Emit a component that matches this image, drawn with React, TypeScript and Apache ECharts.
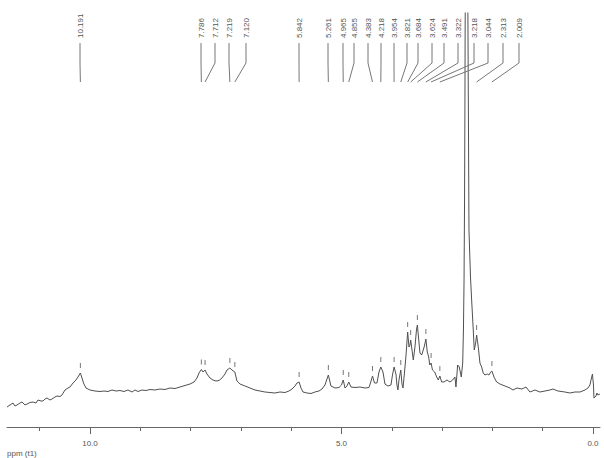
import React, { useEffect, useRef } from "react";
import * as echarts from "echarts";

// Spectrum trace: chemical shift (ppm) and intensity (arbitrary units)
const PPM = [
  11.65, 11.59, 11.531, 11.491, 11.451, 11.392, 11.352, 11.292, 11.252, 11.193, 11.133, 11.074, 11.034,
  10.974, 10.934, 10.895, 10.855, 10.795, 10.755, 10.696, 10.656, 10.596, 10.557, 10.497, 10.437, 10.398,
  10.338, 10.278, 10.239, 10.191, 10.159, 10.129, 10.08, 10.0, 9.901, 9.801, 9.722, 9.642, 9.563, 9.483,
  9.404, 9.324, 9.245, 9.165, 9.105, 9.046, 8.966, 8.887, 8.807, 8.708, 8.608, 8.509, 8.41, 8.31, 8.211,
  8.111, 8.012, 7.932, 7.873, 7.833, 7.786, 7.753, 7.712, 7.674, 7.614, 7.555, 7.495, 7.435, 7.376, 7.316,
  7.276, 7.219, 7.177, 7.12, 7.078, 7.018, 6.918, 6.819, 6.72, 6.62, 6.521, 6.421, 6.322, 6.223, 6.123,
  6.044, 5.984, 5.924, 5.885, 5.842, 5.805, 5.765, 5.686, 5.606, 5.527, 5.447, 5.388, 5.328, 5.261, 5.209,
  5.129, 5.05, 5.0, 4.965, 4.93, 4.891, 4.855, 4.811, 4.732, 4.632, 4.533, 4.453, 4.423, 4.383, 4.344,
  4.294, 4.254, 4.218, 4.175, 4.135, 4.076, 4.016, 3.986, 3.954, 3.917, 3.897, 3.877, 3.857, 3.821, 3.797,
  3.777, 3.748, 3.718, 3.684, 3.658, 3.638, 3.624, 3.598, 3.572, 3.539, 3.509, 3.491, 3.469, 3.439, 3.406,
  3.374, 3.346, 3.322, 3.294, 3.266, 3.244, 3.218, 3.191, 3.147, 3.107, 3.075, 3.044, 3.008, 2.962, 2.903,
  2.843, 2.789, 2.744, 2.724, 2.69, 2.658, 2.618, 2.59, 2.575, 2.563, 2.553, 2.545, 2.541, 2.513, 2.485,
  2.465, 2.435, 2.412, 2.38, 2.36, 2.332, 2.313, 2.28, 2.247, 2.213, 2.181, 2.147, 2.101, 2.068, 2.034,
  2.009, 1.968, 1.915, 1.849, 1.75, 1.65, 1.59, 1.511, 1.412, 1.332, 1.252, 1.153, 1.054, 0.954, 0.855,
  0.795, 0.696, 0.557, 0.457, 0.358, 0.258, 0.159, 0.099, 0.06, 0.03, 0.01, -0.01, -0.02, -0.06, -0.08,
  -0.099, -0.139,
];
const INTENSITY = [
  20, 22, 24, 21, 22, 24, 25, 22, 23, 24.5, 25, 24, 27,
  26, 26, 28, 29, 27, 28, 30, 31, 30.5, 32, 37, 39, 40,
  44, 47, 50, 54, 49, 44, 39, 37, 36, 35.5, 36, 35.5, 37, 36,
  36.5, 35.5, 37, 35, 37, 35.5, 37, 36.5, 37.5, 37, 38, 37.5, 39, 38.5, 40,
  41.5, 43, 45, 49, 54, 57.5, 55, 57, 53, 49, 47, 46, 46.5, 49, 53,
  57, 59, 57, 55, 46, 43, 41, 39, 37, 36, 35, 34.5, 34, 35, 34.5,
  36, 38, 41, 44, 45, 39, 35, 34, 33.5, 35, 36, 38, 42, 52, 41,
  39, 39.5, 42, 47, 39, 41, 45, 40, 39.5, 40, 39, 39.5, 44, 51, 44,
  44, 55, 60, 55, 43, 41, 42, 52, 60, 53, 42, 37, 47, 57, 43,
  39, 54, 71, 95, 80, 82, 87, 77, 67, 80, 97, 102, 90, 74, 72,
  77, 82, 88, 75, 70, 62, 64, 57, 55, 50, 47, 51, 45, 45, 47,
  45, 47, 50, 40, 62, 60, 50, 64, 97, 147, 227, 327, 400, 620, 400,
  197, 150, 127, 97, 77, 84, 92, 80, 64, 60, 54, 52, 53, 52, 55,
  56, 50, 45, 43, 41, 39, 37, 39, 38, 40, 35, 37, 35, 36, 37,
  38, 36, 35, 34, 35, 35, 37, 39, 42, 49, 53, 42, 29, 31, 34,
  32, 33,
];

// Picked peaks
const PEAK_PPM = [
  10.191, 7.786, 7.712, 7.219, 7.12, 5.842, 5.261, 4.965, 4.855, 4.383, 4.218,
  3.954, 3.821, 3.684, 3.624, 3.491, 3.322, 3.218, 3.044, 2.313, 2.009,
];
const PEAK_LABELS = [
  "10.191", "7.786", "7.712", "7.219", "7.120", "5.842", "5.261", "4.965", "4.855", "4.383", "4.218",
  "3.954", "3.821", "3.684", "3.624", "3.491", "3.322", "3.218", "3.044", "2.313", "2.009",
];

// Axis ticks
const MAJOR_TICKS = [0, 5, 10];
const MINOR_TICKS = [0, 1, 2, 3, 4, 5, 6, 7, 8, 9, 10, 11];
const X_MIN = -0.14;
const X_MAX = 11.65;
const Y_MAX = 414;

// Layout: horizontal pixel positions of the stacked peak labels
const LABEL_X = [80, 201, 215, 229, 246, 299, 328, 343, 354, 368, 381, 394, 407, 418, 432, 444, 458, 474, 488, 503, 519];

function intensityAt(p: number): number {
  let best = 0;
  let bd = Infinity;
  for (let i = 0; i < PPM.length; i++) {
    const d = Math.abs(PPM[i] - p);
    if (d < bd) {
      bd = d;
      best = i;
    }
  }
  return INTENSITY[best];
}

export default function App() {
  const ref = useRef<HTMLDivElement>(null);
  useEffect(() => {
    if (!ref.current) return;
    const chart = echarts.init(ref.current, null, { renderer: "svg" });
    const lineColor = "#505050";
    const annColor = "#777";
    const textColor = "#555";
    const font = "Liberation Sans, Arial, sans-serif";
    const spectrum = PPM.map((p, i) => [p, INTENSITY[i]]);
    const peaks = PEAK_PPM.map((p, i) => [p, intensityAt(p), i]);
    chart.setOption({
      animation: false,
      backgroundColor: "#fff",
      grid: { left: 7, right: 4, top: 13, bottom: 31 },
      xAxis: [
        {
          type: "value",
          min: X_MIN,
          max: X_MAX,
          inverse: true,
          axisLine: { show: true, lineStyle: { color: "#666", width: 1 } },
          axisTick: { show: true, customValues: MAJOR_TICKS, length: 7, lineStyle: { color: "#666" } },
          axisLabel: {
            show: true,
            customValues: MAJOR_TICKS,
            formatter: (v: number) => v.toFixed(1),
            fontSize: 8,
            fontFamily: font,
            color: textColor,
            margin: 12,
          },
          splitLine: { show: false },
        },
        {
          type: "value",
          min: X_MIN,
          max: X_MAX,
          inverse: true,
          position: "bottom",
          axisLine: { show: false },
          axisTick: { show: true, customValues: MINOR_TICKS, length: 4, lineStyle: { color: "#666" } },
          axisLabel: { show: false },
          splitLine: { show: false },
        },
      ],
      yAxis: { type: "value", min: 0, max: Y_MAX, show: false, splitLine: { show: false } },
      graphic: [
        {
          type: "text",
          left: 7,
          top: 449,
          style: { text: "ppm (t1)", fontSize: 8, fontFamily: font, fill: textColor },
        },
      ],
      series: [
        {
          type: "line",
          data: spectrum,
          showSymbol: false,
          symbol: "none",
          clip: true,
          lineStyle: { color: lineColor, width: 1 },
          z: 2,
        },
        {
          type: "custom",
          data: peaks,
          clip: false,
          encode: { x: 0, y: 1 },
          renderItem: (params: any, api: any) => {
            const ppm = api.value(0);
            const inten = api.value(1);
            const idx = api.value(2);
            const pt = api.coord([ppm, inten]);
            const px = pt[0];
            const lx = LABEL_X[idx];
            return {
              type: "group",
              children: [
                {
                  type: "text",
                  x: lx,
                  y: 38,
                  rotation: Math.PI / 2,
                  style: {
                    text: PEAK_LABELS[idx],
                    fontSize: 8,
                    fontFamily: font,
                    fill: textColor,
                    align: "left",
                    verticalAlign: "middle",
                  },
                },
                {
                  type: "polyline",
                  shape: { points: [[lx, 43], [lx, 63], [px, 82]] },
                  style: { stroke: annColor, lineWidth: 1, fill: "none" },
                },
                {
                  type: "line",
                  shape: { x1: px, y1: pt[1] - 10, x2: px, y2: pt[1] - 5 },
                  style: { stroke: annColor, lineWidth: 1 },
                },
              ],
            };
          },
          z: 3,
        },
      ],
    });
    return () => chart.dispose();
  }, []);
  return (
    <div
      ref={ref}
      style={{ position: "fixed", left: 0, top: 0, width: 604, height: 458, background: "#fff" }}
    />
  );
}
